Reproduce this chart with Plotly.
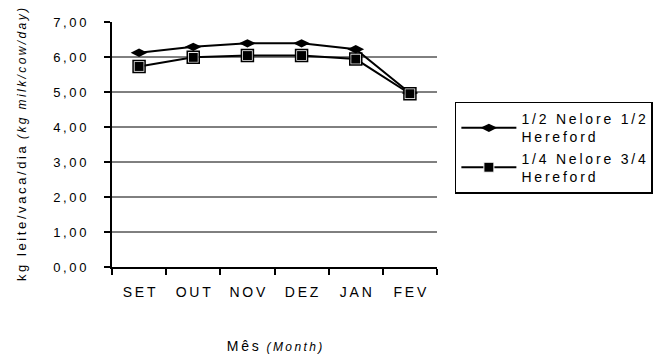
import plotly.graph_objects as go

months = ["SET", "OUT", "NOV", "DEZ", "JAN", "FEV"]
series1_name = "1/2 Nelore 1/2<br>Hereford"
series1 = [6.12, 6.29, 6.39, 6.39, 6.22, 4.97]
series2_name = "1/4 Nelore 3/4<br>Hereford"
series2 = [5.73, 5.99, 6.04, 6.04, 5.94, 4.95]
y_ticks = [0, 1, 2, 3, 4, 5, 6, 7]
grid_vals = [1, 2, 3, 4, 5, 6]

TS = "\u2009"  # thin space used to mimic the wide letter spacing


def spaced(s):
    return TS.join(list(s))


def spaced_html(s):
    return "<br>".join(TS.join(list(part)) for part in s.split("<br>"))


FONT = "Liberation Sans, Arial, sans-serif"

fig = go.Figure()
fig.add_trace(go.Scatter(
    x=months, y=series1, name=spaced_html(series1_name), mode="lines+markers",
    line=dict(color="black", width=2),
    marker=dict(symbol="diamond-wide", size=12, color="black"),
))
fig.add_trace(go.Scatter(
    x=months, y=series2, name=spaced_html(series2_name), mode="lines+markers",
    line=dict(color="black", width=2),
    marker=dict(symbol="square", size=10, color="black", line=dict(color="white", width=1)),
))
fig.add_trace(go.Scatter(
    x=months, y=series2, mode="markers", showlegend=False, hoverinfo="skip",
    marker=dict(symbol="square-open", size=12, color="black", line=dict(color="black", width=1.5)),
))

for g in grid_vals:
    fig.add_shape(type="line", xref="paper", x0=0, x1=1, yref="y", y0=g, y1=g,
                  line=dict(color="black", width=1), layer="below")

y_title = (spaced("kg leite/vaca/dia") + "  <span style='font-size:12px'><i>"
           + spaced("(kg milk/cow/day)") + "</i></span>")
x_title = (spaced("Mês") + "  <span style='font-size:12px'><i>"
           + spaced("(Month)") + "</i></span>")

fig.update_layout(
    width=665, height=364,
    margin=dict(l=112, r=223, t=22, b=90),
    paper_bgcolor="white", plot_bgcolor="white",
    font=dict(family=FONT, color="black", size=13),
    showlegend=True,
    legend=dict(
        x=1.055, xanchor="left", y=0.675, yanchor="top",
        bordercolor="black", borderwidth=1.5, bgcolor="white",
        font=dict(family=FONT, size=14, color="black"),
        tracegroupgap=2, itemwidth=55,
    ),
    xaxis=dict(
        type="category", tickvals=months, ticktext=[spaced(m) for m in months],
        showline=True, linecolor="black", linewidth=2,
        ticks="outside", ticklen=6, tickwidth=2, tickcolor="black",
        tickson="boundaries", showgrid=False, zeroline=False,
        tickfont=dict(family=FONT, size=14, color="black"),
        ticklabelstandoff=11,
        title=dict(text=x_title, font=dict(family=FONT, size=14, color="black"), standoff=42),
        range=[-0.5, 5.5],
    ),
    yaxis=dict(
        range=[0, 7], tickvals=y_ticks,
        ticktext=[spaced(f"{v:.2f}".replace(".", ",")) for v in y_ticks],
        showline=True, linecolor="black", linewidth=2,
        ticks="outside", ticklen=6, tickwidth=2, tickcolor="black",
        showgrid=False, zeroline=False,
        tickfont=dict(family=FONT, size=13, color="black"),
        ticklabelstandoff=15,
        title=dict(text=y_title, font=dict(family=FONT, size=13, color="black"), standoff=24),
    ),
)

fig.write_html("out.html", config={"displayModeBar": False},
               post_script="document.body.style.margin='0';")
